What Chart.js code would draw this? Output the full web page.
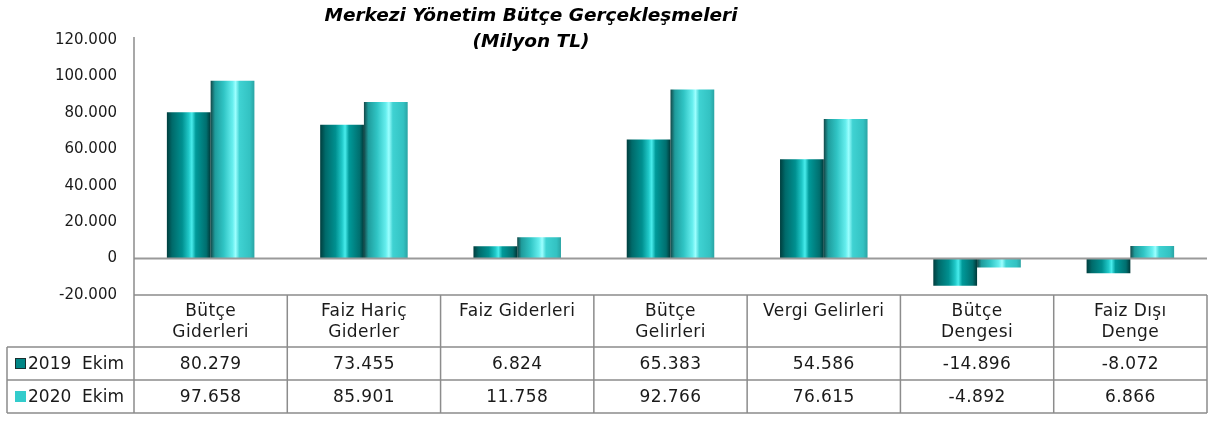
<!DOCTYPE html>
<html>
<head>
<meta charset="utf-8">
<script src="https://cdn.jsdelivr.net/npm/chart.js@4"></script>
<style>
  html, body { margin: 0; padding: 0; background: #fff; }
  #wrap { width: 1225px; height: 421px; position: relative; }
</style>
</head>
<body>
<div id="wrap"><canvas id="budget-chart" width="1225" height="421"></canvas></div>
<script>
// data
const title_lines = ['Merkezi Yönetim Bütçe Gerçekleşmeleri', '(Milyon TL)'];
const categories = [
  ['Bütçe', 'Giderleri'],
  ['Faiz Hariç', 'Giderler'],
  ['Faiz Giderleri'],
  ['Bütçe', 'Gelirleri'],
  ['Vergi Gelirleri'],
  ['Bütçe', 'Dengesi'],
  ['Faiz Dışı', 'Denge']
];
const series_names = ['2019  Ekim', '2020  Ekim'];
const values_2019 = [80279, 73455, 6824, 65383, 54586, -14896, -8072];
const values_2020 = [97658, 85901, 11758, 92766, 76615, -4892, 6866];
const y_ticks = [-20000, 0, 20000, 40000, 60000, 80000, 100000, 120000];

const font_name = '"DejaVu Sans", sans-serif';
const text_color = '#1a1a1a';
const line_color = '#8c8c8c';

// cylinder look: horizontal gradient stops per series
const grad_stops = [
  [[0, '#003e3e'], [0.12, '#006a6a'], [0.35, '#009090'], [0.5, '#20c8c8'], [0.57, '#48ecec'], [0.66, '#009a9a'], [0.9, '#006f6f'], [1, '#003838']],
  [[0, '#144848'], [0.1, '#1f9c9c'], [0.3, '#30c4c4'], [0.5, '#66eeee'], [0.57, '#9cffff'], [0.66, '#3fd2d2'], [0.9, '#33c2c2'], [1, '#2aa4a4']]
];

function fmt(v){
  let s = Math.abs(v).toString().replace(/\B(?=(\d{3})+(?!\d))/g, '.');
  return (v < 0 ? '-' : '') + s;
}

function makeGrad(ctx, x0, x1, stops){
  let g = ctx.createLinearGradient(x0, 0, x1, 0);
  stops.forEach(s => g.addColorStop(s[0], s[1]));
  return g;
}

// give every bar its own cylinder gradient
const cylinder_plugin = {
  id: 'cylinder',
  beforeDatasetsDraw(chart){
    const ctx = chart.ctx;
    chart.data.datasets.forEach((ds, di) => {
      chart.getDatasetMeta(di).data.forEach(bar => {
        let x0 = bar.x - bar.width / 2;
        let x1 = bar.x + bar.width / 2;
        bar.options.backgroundColor = makeGrad(ctx, x0, x1, grad_stops[di]);
      });
    });
  }
};

// title, zero line, data table under the plot
const table_plugin = {
  id: 'dataTable',
  afterDraw(chart){
    const ctx = chart.ctx;
    const x = chart.scales.x;
    const y = chart.scales.y;
    const area = chart.chartArea;
    const n = categories.length;
    const colW = (area.right - area.left) / n;
    const headTop = area.bottom;
    const row1 = headTop + 52;
    const row2 = row1 + 33;
    const row3 = row2 + 33;
    const legLeft = 7;

    ctx.save();
    // title
    ctx.fillStyle = '#000';
    ctx.font = 'italic bold 18.5px ' + font_name;
    ctx.textAlign = 'center';
    ctx.textBaseline = 'middle';
    ctx.fillText(title_lines[0], 531, 16);
    ctx.fillText(title_lines[1], 531, 42);

    // zero line
    const zy = y.getPixelForValue(0);
    ctx.strokeStyle = '#9a9a9a';
    ctx.lineWidth = 2;
    ctx.beginPath();
    ctx.moveTo(area.left, zy);
    ctx.lineTo(area.right, zy);
    ctx.stroke();

    // grid lines of the table
    ctx.strokeStyle = line_color;
    ctx.lineWidth = 1.5;
    ctx.beginPath();
    ctx.moveTo(area.left, area.top - 3);
    ctx.lineTo(area.left, row3);
    ctx.moveTo(area.left, headTop);
    ctx.lineTo(area.right, headTop);
    for (let i = 1; i <= n; i++){
      let bx = area.left + colW * i;
      ctx.moveTo(bx, headTop);
      ctx.lineTo(bx, row3);
    }
    [row1, row2, row3].forEach(ry => {
      ctx.moveTo(legLeft, ry);
      ctx.lineTo(area.right, ry);
    });
    ctx.moveTo(legLeft, row1);
    ctx.lineTo(legLeft, row3);
    ctx.stroke();

    // header labels + values
    ctx.fillStyle = text_color;
    ctx.font = '17px ' + font_name;
    ctx.letterSpacing = '0.4px';
    ctx.textAlign = 'center';
    ctx.textBaseline = 'middle';
    categories.forEach((lines, i) => {
      let cx = x.getPixelForValue(i);
      lines.forEach((t, li) => ctx.fillText(t, cx, headTop + 17 + li * 21));
      ctx.fillText(fmt(values_2019[i]), cx, (row1 + row2) / 2 + 1);
      ctx.fillText(fmt(values_2020[i]), cx, (row2 + row3) / 2 + 1);
    });

    // legend cells
    ctx.letterSpacing = '0px';
    const rowsY = [(row1 + row2) / 2, (row2 + row3) / 2];
    series_names.forEach((name, si) => {
      let my = rowsY[si];
      ctx.fillStyle = si === 0 ? '#008585' : '#33cccc';
      ctx.fillRect(15, my - 5.5, 11, 11);
      if (si === 0){
        ctx.strokeStyle = '#1a2e2e';
        ctx.lineWidth = 1;
        ctx.strokeRect(15.5, my - 5, 10, 10);
      }
      ctx.fillStyle = text_color;
      ctx.textAlign = 'left';
      ctx.fillText(name, 28, my + 1);
    });
    ctx.restore();
  }
};

const ctx = document.getElementById('budget-chart').getContext('2d');
const myChart = new Chart(ctx, {
  type: 'bar',
  data: {
    labels: categories,
    datasets: [
      { label: series_names[0], data: values_2019, backgroundColor: (c) => '#008080', borderWidth: 0 },
      { label: series_names[1], data: values_2020, backgroundColor: (c) => '#33cccc', borderWidth: 0 }
    ]
  },
  options: {
    responsive: false,
    animation: false,
    events: [],
    layout: { padding: { top: 40, right: 18, bottom: 126, left: 0 } },
    datasets: { bar: { categoryPercentage: 0.571, barPercentage: 1.0 } },
    plugins: {
      legend: { display: false },
      title: { display: false },
      tooltip: { enabled: false }
    },
    scales: {
      x: {
        grid: { display: false, drawTicks: false },
        border: { display: false },
        ticks: { display: false }
      },
      y: {
        min: -20000,
        max: 120000,
        afterFit: (s) => { s.width = 134; },
        afterBuildTicks: (s) => { s.ticks = y_ticks.map(v => ({ value: v })); },
        grid: { display: false, drawTicks: false },
        border: { display: false },
        ticks: {
          padding: 17,
          color: text_color,
          font: { family: font_name, size: 15 },
          callback: (v) => fmt(v)
        }
      }
    }
  },
  plugins: [cylinder_plugin, table_plugin]
});
</script>
</body>
</html>
